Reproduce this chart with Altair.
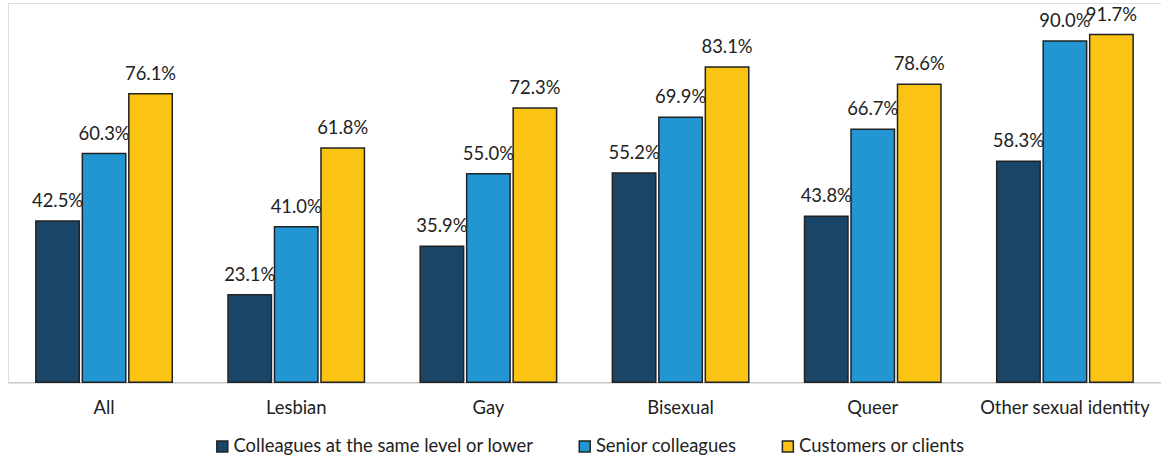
import altair as alt
import pandas as pd

groups = ["All", "Lesbian", "Gay", "Bisexual", "Queer", "Other sexual identity"]
series = [
    "Colleagues at the same level or lower",
    "Senior colleagues",
    "Customers or clients",
]
same_level = [42.5, 23.1, 35.9, 55.2, 43.8, 58.3]
senior = [60.3, 41.0, 55.0, 69.9, 66.7, 90.0]
customers = [76.1, 61.8, 72.3, 83.1, 78.6, 91.7]
colors = ["#1b4566", "#2196d3", "#fbc314"]

rows = []
for i, g in enumerate(groups):
    for s, vals in zip(series, [same_level, senior, customers]):
        rows.append({"group": g, "series": s, "value": vals[i]})
df = pd.DataFrame(rows)
df["label"] = df["value"].map(lambda v: f"{v:.1f}%")

FONT = "Lato"
INK = "#222222"
FS = 18.5

x = alt.X(
    "group:N",
    sort=groups,
    title=None,
    scale=alt.Scale(paddingInner=0.29, paddingOuter=0.145),
    axis=alt.Axis(
        labelAngle=0,
        labelFontSize=FS,
        labelColor=INK,
        labelFont=FONT,
        labelPadding=16,
        ticks=False,
        domainColor="#cccccc",
        domainWidth=1.5,
        grid=False,
    ),
)
xo = alt.XOffset("series:N", sort=series, scale=alt.Scale(paddingInner=0.065))
y = alt.Y("value:Q", scale=alt.Scale(domain=[0, 100]), axis=None)

bars = alt.Chart(df).mark_bar(stroke=INK, strokeWidth=1.5).encode(
    x=x,
    xOffset=xo,
    y=y,
    color=alt.Color(
        "series:N",
        sort=series,
        scale=alt.Scale(domain=series, range=colors),
        legend=alt.Legend(
            title=None,
            orient="none",
            legendX=206,
            legendY=436,
            direction="horizontal",
            labelFontSize=FS,
            labelFont=FONT,
            labelColor=INK,
            labelLimit=0,
            symbolType="square",
            symbolSize=121,
            symbolStrokeColor=INK,
            symbolStrokeWidth=1.5,
            columnPadding=42,
            labelOffset=2,
        ),
    ),
)

labels = alt.Chart(df).mark_text(
    dy=-10, baseline="bottom", fontSize=FS, font=FONT, color=INK
).encode(x=x, xOffset=xo, y=y, text="label:N")

chart = (
    (bars + labels)
    .properties(
        width=1158,
        height=381,
        padding={"left": 8, "top": 2, "right": 0, "bottom": 76},
        autosize=alt.AutoSizeParams(type="none"),
    )
    .configure_view(strokeWidth=0)
    .configure(background="white")
)

chart.save("out.html", embed_options={"renderer": "svg", "actions": False})
